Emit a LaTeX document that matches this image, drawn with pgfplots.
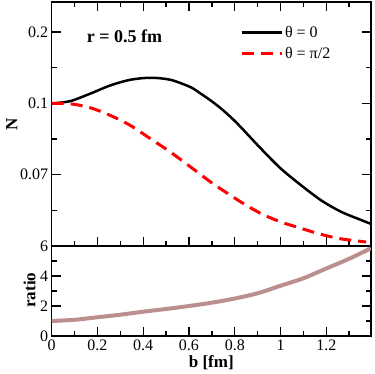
\documentclass[border=0pt]{standalone}
\usepackage{pgfplots}
\pgfplotsset{compat=1.18}
\usepackage{fontspec}
\setmainfont{Liberation Serif}
\definecolor{rosy}{HTML}{BC8F8F}
\pgfplotsset{
  every axis/.append style={
    scale only axis,
    width=319.2pt,
    axis line style={line width=1.6pt},
    every tick/.style={line width=1.4pt, black},
    major tick length=9pt,
    minor tick length=5pt,
    tick align=inside,
    tick label style={font=\fontsize{16}{18}\selectfont},
    label style={font=\fontsize{17}{19}\selectfont\bfseries},
    /pgf/number format/assume math mode=true,
    /pgf/number format/fixed,
    xmin=0, xmax=1.395,
  },
}
\begin{document}
\begin{tikzpicture}
\begin{axis}[
  name=top,
  at={(0pt,0pt)}, anchor=north west,
  height=244pt,
  ymode=log,
  ymin=0.025, ymax=0.268,
  ytick={0.05,0.1,0.2},
  yticklabels={0.07,0.1,0.2},
  minor ytick={0.035355,0.070711,0.141421},
  xtick={0,0.2,0.4,0.6,0.8,1,1.2},
  minor xtick={0.1,0.3,0.5,0.7,0.9,1.1,1.3},
  xticklabels={},
  xtick pos=both, ytick pos=both,
  ylabel={N},
  ylabel style={at={(axis description cs:-0.125,0.5)}, anchor=center},
  legend style={at={(rel axis cs:0.58,0.918)}, anchor=north west, draw=none, fill=none,
    font=\fontsize{16}{18}\selectfont, row sep=4pt,
    nodes={inner sep=2pt}},
  legend cell align=left,
  legend image code/.code={\draw[#1] (0pt,0pt) -- (40pt,0pt);},
]
\addplot[black, line width=2.5pt, smooth] coordinates {
(0,0.1000) (0.08,0.1022) (0.168,0.1099) (0.256,0.1191) (0.343,0.1258)
(0.431,0.1283) (0.519,0.1258) (0.607,0.1171) (0.651,0.1100) (0.694,0.1030)
(0.738,0.0955) (0.782,0.0876) (0.826,0.0795) (0.914,0.0645) (1.001,0.0531)
(1.089,0.0452) (1.177,0.0390) (1.264,0.0349) (1.352,0.0322) (1.395,0.0310)
};
\addlegendentry{θ = 0}
\addplot[red, line width=3pt, dash pattern=on 12pt off 7pt, smooth] coordinates {
(0,0.1000) (0.08,0.0997) (0.168,0.0959) (0.256,0.0890) (0.343,0.0808)
(0.431,0.0710) (0.519,0.0623) (0.607,0.0539) (0.694,0.0466) (0.738,0.0436)
(0.826,0.0384) (0.914,0.0343) (1.001,0.0316) (1.089,0.0297) (1.177,0.0280)
(1.264,0.0268) (1.374,0.0260)
};
\addlegendentry{θ = π/2}
\node[font=\fontsize{18}{20}\selectfont\bfseries] at (rel axis cs:0.228,0.861) {r = 0.5 fm};
\end{axis}
\begin{axis}[
  name=bot,
  at={(0pt,-244pt)}, anchor=north west,
  height=90pt,
  ymin=0, ymax=6,
  ytick={0,2,4,6},
  minor ytick={1,3,5},
  xtick={0,0.2,0.4,0.6,0.8,1,1.2},
  minor xtick={0.1,0.3,0.5,0.7,0.9,1.1,1.3},
  xtick pos=bottom, ytick pos=both,
  ylabel={ratio},
  ylabel style={at={(axis description cs:-0.069,0.51)}, anchor=center},
  xlabel={b [fm]},
  xlabel style={at={(axis description cs:0.5,-0.3)}, anchor=center},
]
\addplot[rosy, line width=4pt, smooth] coordinates {
(0,1.0) (0.1,1.08) (0.2,1.25) (0.3,1.42) (0.4,1.62) (0.5,1.8) (0.6,2.0)
(0.7,2.22) (0.8,2.5) (0.9,2.85) (1.0,3.35) (1.1,3.85) (1.2,4.5) (1.3,5.15) (1.395,5.85)
};
\end{axis}
\pgfresetboundingbox
\path (-51.7pt,2pt) rectangle (322.3pt,-372pt);
\end{tikzpicture}
\end{document}
